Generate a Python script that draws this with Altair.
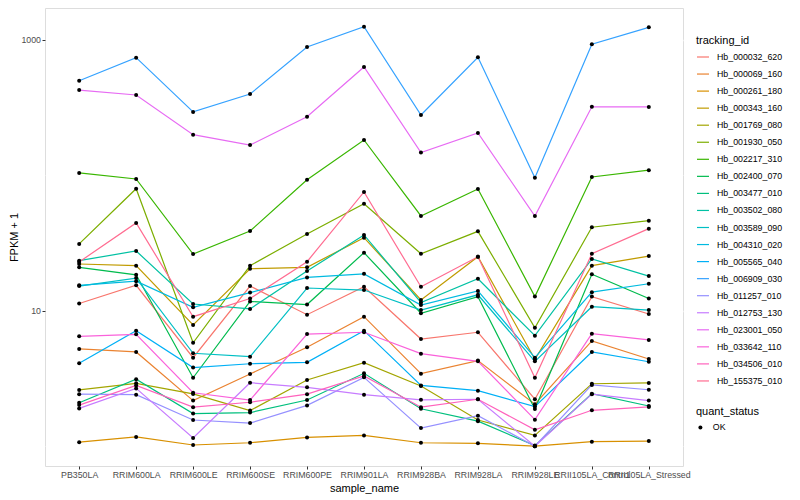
import altair as alt
import pandas as pd

samples = ["PB350LA", "RRIM600LA", "RRIM600LE", "RRIM600SE", "RRIM600PE", "RRIM901LA",
           "RRIM928BA", "RRIM928LA", "RRIM928LE", "RRII105LA_Control", "RRII105LA_Stressed"]

tracking_ids = ["Hb_000032_620", "Hb_000069_160", "Hb_000261_180", "Hb_000343_160",
                "Hb_001769_080", "Hb_001930_050", "Hb_002217_310", "Hb_002400_070",
                "Hb_003477_010", "Hb_003502_080", "Hb_003589_090", "Hb_004310_020",
                "Hb_005565_040", "Hb_006909_030", "Hb_011257_010", "Hb_012753_130",
                "Hb_023001_050", "Hb_033642_110", "Hb_034506_010", "Hb_155375_010"]

colors = ["#F8766D", "#EA8331", "#D89000", "#C09B00", "#A3A500", "#7CAE00", "#39B600",
          "#00BB4E", "#00BF7D", "#00C1A3", "#00BFC4", "#00BAE0", "#00B0F6", "#35A2FF",
          "#9590FF", "#C77CFF", "#E76BF3", "#FA62DB", "#FF62BC", "#FF6C91"]

# FPKM + 1 values, one list per tracking_id, in sample order
hb_000032_620 = [11.3, 15.4, 4.50, 15.2, 9.34, 15.0, 6.18, 6.93, 2.22, 12.7, 9.45]
hb_000069_160 = [5.22, 4.96, 2.17, 3.41, 5.37, 9.03, 3.43, 4.28, 2.04, 5.98, 4.40]
hb_000261_180 = [1.07, 1.17, 1.02, 1.06, 1.16, 1.20, 1.06, 1.05, 1.00, 1.08, 1.09]
hb_000343_160 = [22.1, 21.5, 7.84, 20.4, 20.9, 34.6, 12.0, 25.0, 4.38, 21.5, 25.3]
hb_001769_080 = [2.60, 2.91, 2.43, 1.83, 3.08, 4.13, 2.78, 1.56, 1.20, 2.89, 2.93]
hb_001930_050 = [31.1, 79.5, 5.80, 21.5, 36.8, 61.6, 26.3, 38.5, 7.49, 41.3, 46.2]
hb_002217_310 = [104, 93.8, 26.2, 38.7, 92.6, 182, 50.0, 79.1, 12.7, 97.0, 109]
hb_002400_070 = [20.9, 18.4, 3.20, 11.7, 11.1, 26.8, 9.57, 12.7, 1.88, 18.6, 12.3]
hb_003477_010 = [2.09, 3.12, 1.74, 1.77, 2.19, 3.45, 1.89, 1.53, 1.01, 2.44, 1.98]
hb_003502_080 = [23.4, 27.6, 11.2, 10.3, 19.6, 36.2, 11.5, 17.2, 6.54, 24.1, 18.0]
hb_003589_090 = [15.2, 17.4, 4.85, 4.58, 14.7, 14.2, 10.1, 13.1, 4.23, 10.7, 10.1]
hb_004310_020 = [15.4, 16.5, 10.6, 13.6, 17.6, 18.7, 11.0, 14.0, 4.50, 13.7, 15.8]
hb_005565_040 = [4.09, 7.12, 3.80, 4.06, 4.16, 7.12, 2.81, 2.57, 1.96, 4.96, 4.20]
hb_006909_030 = [498, 737, 293, 397, 883, 1247, 278, 742, 95.8, 925, 1234]
hb_011257_010 = [2.42, 2.40, 1.56, 1.48, 2.00, 3.22, 1.36, 1.68, 1.00, 2.83, 2.61]
hb_012753_130 = [1.90, 2.67, 1.15, 2.94, 2.72, 2.40, 2.20, 2.22, 1.00, 2.42, 2.17]
hb_023001_050 = [425, 391, 199, 167, 270, 629, 147, 205, 50.0, 320, 319]
hb_033642_110 = [6.47, 6.69, 2.48, 2.19, 6.72, 6.93, 4.82, 4.23, 1.57, 6.77, 6.08]
hb_034506_010 = [2.01, 2.81, 1.94, 2.11, 2.42, 3.30, 1.94, 2.22, 1.32, 1.84, 1.95]
hb_155375_010 = [22.9, 44.4, 9.03, 12.3, 23.0, 75.2, 15.0, 25.0, 3.20, 26.3, 40.3]

series = [hb_000032_620, hb_000069_160, hb_000261_180, hb_000343_160, hb_001769_080,
          hb_001930_050, hb_002217_310, hb_002400_070, hb_003477_010, hb_003502_080,
          hb_003589_090, hb_004310_020, hb_005565_040, hb_006909_030, hb_011257_010,
          hb_012753_130, hb_023001_050, hb_033642_110, hb_034506_010, hb_155375_010]

rows = []
for tid, vals in zip(tracking_ids, series):
    for s, v in zip(samples, vals):
        rows.append({"tracking_id": tid, "sample_name": s, "fpkm1": v, "quant_status": "OK"})
df = pd.DataFrame(rows)

FONT = "Liberation Sans"
major = "datum.value == 10 || datum.value == 1000"

x = alt.X("sample_name:N", sort=samples,
          scale=alt.Scale(type="point", padding=0.6),
          axis=alt.Axis(title="sample_name", labelAngle=0, labelFontSize=8.8,
                        labelColor="#4D4D4D", tickSize=3, tickColor="#333333",
                        labelPadding=1.5, domain=False, gridColor="white", gridWidth=1.3,
                        titleFontSize=11, titleFontWeight="normal", titleColor="black",
                        titlePadding=3, labelOverlap=False, labelFont=FONT, titleFont=FONT))
y = alt.Y("fpkm1:Q",
          scale=alt.Scale(type="log", domain=[0.714, 1714], nice=False),
          axis=alt.Axis(title="FPKM + 1", values=[1, 10, 100, 1000],
                        labelExpr="(" + major + ") ? format(datum.value, 'd') : ''",
                        gridColor="white",
                        gridWidth={"condition": {"test": major, "value": 1.3}, "value": 0.65},
                        tickOpacity={"condition": {"test": major, "value": 1}, "value": 0},
                        tickSize=3, tickColor="#333333", labelColor="#4D4D4D",
                        labelFontSize=8.8, labelPadding=1.5, domain=False,
                        titleFontSize=11, titleFontWeight="normal", titleColor="black",
                        titlePadding=1, labelOverlap=False, labelFont=FONT, titleFont=FONT))

lines = alt.Chart(df).mark_line(strokeWidth=1.2).encode(
    x=x, y=y,
    color=alt.Color("tracking_id:N",
                    scale=alt.Scale(domain=tracking_ids, range=colors),
                    legend=alt.Legend(title="tracking_id", orient="none", legendX=651, legendY=27,
                                      symbolType="stroke", symbolSize=144, symbolStrokeWidth=1.2,
                                      labelFontSize=8.8, titleFontSize=11, titleFontWeight="normal",
                                      titleColor="black", labelColor="black", rowPadding=5.05,
                                      titlePadding=4, labelOffset=7, padding=0,
                                      labelFont=FONT, titleFont=FONT)),
)

points = alt.Chart(df).mark_point(filled=True, color="black", size=16, opacity=1).encode(
    x=x, y=y,
    shape=alt.Shape("quant_status:N",
                    scale=alt.Scale(domain=["OK"], range=["circle"]),
                    legend=alt.Legend(title="quant_status", orient="none", legendX=651, legendY=398,
                                      symbolSize=16, labelFontSize=8.8, titleFontSize=11,
                                      titleFontWeight="normal", titleColor="black",
                                      labelColor="black", titlePadding=6, labelOffset=8,
                                      padding=0, labelFont=FONT, titleFont=FONT,
                                      symbolFillColor="black", symbolStrokeColor="black")),
)

chart = alt.layer(lines, points).properties(
    width=638, height=458,
    padding={"left": 37, "top": 0, "right": 109, "bottom": 34},
    autosize=alt.AutoSizeParams(type="none"),
).configure_view(fill="#EBEBEB", strokeWidth=0).configure(font=FONT)

chart.save("out.html", embed_options={"renderer": "svg", "actions": False})
